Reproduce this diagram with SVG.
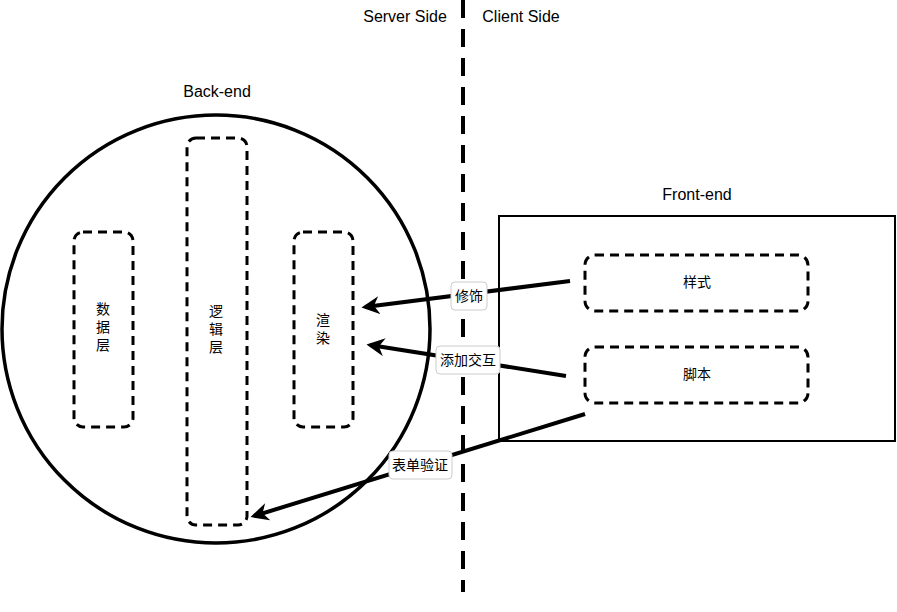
<svg xmlns="http://www.w3.org/2000/svg" width="897" height="612" viewBox="0 0 897 612">
<style>
.t{font-family:"Liberation Sans","Noto Sans CJK SC",sans-serif;fill:#000}
.h{font-size:16px;text-anchor:middle}
.c{font-size:14px;text-anchor:middle}
.dash{fill:none;stroke:#000;stroke-width:3;stroke-dasharray:9 6}
.arr{fill:none;stroke:#000;stroke-width:4;marker-end:url(#ah)}
.lbl{fill:#fff;stroke:#ccc;stroke-width:1}
</style>
<defs>
<marker id="ah" viewBox="0 0 10 10" refX="8" refY="5" markerWidth="4.5" markerHeight="4.5" orient="auto" markerUnits="strokeWidth">
<path d="M0,0 L10,5 L0,10 L3,5 z" fill="#000"/>
</marker>
</defs>
<rect width="897" height="612" fill="#fff"/>
<g id="divider">
<line x1="463" y1="0" x2="463" y2="592" stroke="#000" stroke-width="4" stroke-dasharray="18 11"/>
<text class="t h" x="405" y="22">Server Side</text>
<text class="t h" x="521" y="22">Client Side</text>
</g>
<g id="backend">
<circle cx="216" cy="329" r="214" fill="none" stroke="#000" stroke-width="3.5"/>
<text class="t h" x="217" y="97">Back-end</text>
</g>
<g id="data-layer">
<rect class="dash" x="74" y="232" width="59" height="195" rx="9"/>
<text class="t c" x="103" y="314">数</text>
<text class="t c" x="103" y="332">据</text>
<text class="t c" x="103" y="350">层</text>
</g>
<g id="logic-layer">
<rect class="dash" x="187" y="138" width="60" height="387" rx="9"/>
<text class="t c" x="216" y="316">逻</text>
<text class="t c" x="216" y="334">辑</text>
<text class="t c" x="216" y="352">层</text>
</g>
<g id="render">
<rect class="dash" x="294" y="232" width="59" height="195" rx="9"/>
<text class="t c" x="323" y="325">渲</text>
<text class="t c" x="323" y="343">染</text>
</g>
<g id="frontend">
<rect x="499" y="216" width="396" height="225" fill="none" stroke="#000" stroke-width="2"/>
<text class="t h" x="697" y="200">Front-end</text>
</g>
<g id="style">
<rect class="dash" x="585" y="255" width="223" height="56" rx="10"/>
<text class="t c" x="697" y="287">样式</text>
</g>
<g id="script">
<rect class="dash" x="585" y="347" width="223" height="56" rx="10"/>
<text class="t c" x="697" y="379">脚本</text>
</g>
<g id="connectors">
<line class="arr" x1="570" y1="281" x2="365" y2="307"/>
<line class="arr" x1="566" y1="376" x2="370" y2="345"/>
<line class="arr" x1="585" y1="414" x2="254" y2="516"/>
<rect class="lbl" x="451" y="282" width="36" height="28" rx="4"/>
<text class="t c" x="469" y="301">修饰</text>
<rect class="lbl" x="436" y="346" width="64" height="28" rx="4"/>
<text class="t c" x="468" y="365">添加交互</text>
<rect class="lbl" x="389" y="451" width="63" height="28" rx="4"/>
<text class="t c" x="420" y="470">表单验证</text>
</g>
</svg>
